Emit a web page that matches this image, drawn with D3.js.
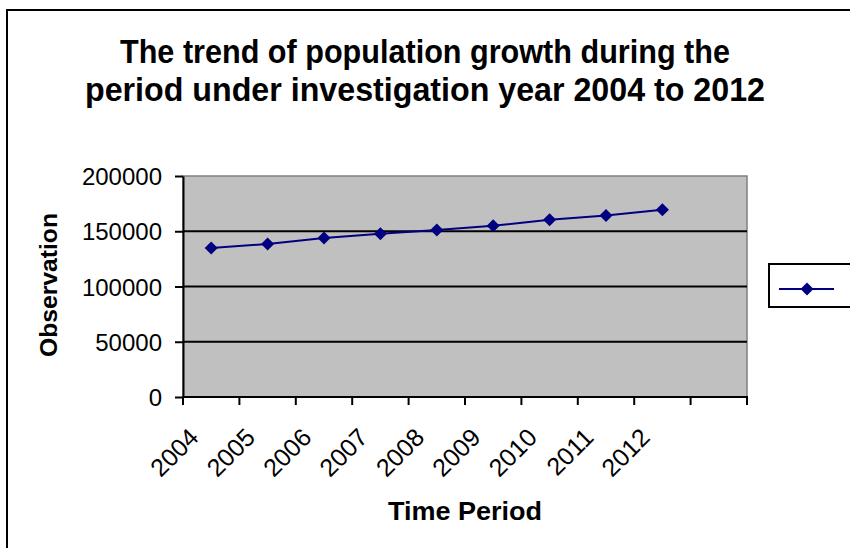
<!DOCTYPE html>
<html>
<head>
<meta charset="utf-8">
<script src="https://cdn.jsdelivr.net/npm/d3@7"></script>
<style>
  html, body { margin: 0; padding: 0; background: #fff; }
  svg { display: block; }
  text { font-family: "Liberation Sans", Arial, sans-serif; fill: #000; }
</style>
</head>
<body>
<svg id="chart" width="850" height="548"></svg>
<script>
// ---- data ----
const years = ['2004', '2005', '2006', '2007', '2008', '2009', '2010', '2011', '2012'];
const population = [134900, 138500, 143900, 147800, 151100, 155000, 160400, 164300, 169400];
const yTicks = [0, 50000, 100000, 150000, 200000];
const slots = [...years, ' ']; // trailing empty category slot on the axis
const titleLines = ['The trend of population growth during the', 'period under investigation year 2004 to 2012'];
const xTitle = 'Time Period';
const yTitle = 'Observation';

// ---- layout ----
const svg = d3.select('#chart');
const plot = { left: 183, right: 747, top: 176, bottom: 397 };

const x = d3.scaleBand().domain(slots).range([plot.left, plot.right]).padding(0);
const y = d3.scaleLinear().domain([0, 200000]).range([plot.bottom, plot.top]);

// outer chart border
svg.append('rect')
  .attr('x', 7).attr('y', 10)
  .attr('width', 900).attr('height', 600)
  .attr('fill', '#fff').attr('stroke', '#000').attr('stroke-width', 2);

// title
svg.append('g').selectAll('text').data(titleLines).join('text')
  .attr('x', 425)
  .attr('y', (d, i) => 63 + i * 38)
  .attr('text-anchor', 'middle')
  .attr('font-size', 34)
  .attr('font-weight', 'bold')
  .attr('textLength', (d, i) => i === 0 ? 610 : 680)
  .attr('lengthAdjust', 'spacingAndGlyphs')
  .text(d => d);

// plot background
svg.append('rect')
  .attr('x', plot.left).attr('y', plot.top)
  .attr('width', plot.right - plot.left).attr('height', plot.bottom - plot.top)
  .attr('fill', '#C0C0C0')
  .attr('stroke', '#808080').attr('stroke-width', 1.5);

// gridlines
svg.append('g').selectAll('line')
  .data(yTicks.filter(t => t > 0 && t < 200000)).join('line')
  .attr('x1', plot.left).attr('x2', plot.right)
  .attr('y1', d => y(d)).attr('y2', d => y(d))
  .attr('stroke', '#000').attr('stroke-width', 2);

// y axis
const yAxis = svg.append('g')
  .attr('transform', `translate(${plot.left},0)`)
  .call(d3.axisLeft(y).tickValues(yTicks).tickSize(8).tickSizeOuter(0).tickPadding(13).tickFormat(d3.format('d')));
yAxis.select('.domain').attr('stroke', '#000').attr('stroke-width', 2);
yAxis.selectAll('.tick line').attr('stroke', '#000').attr('stroke-width', 2);
yAxis.selectAll('.tick text')
  .attr('font-size', 24)
  .attr('font-family', '"Liberation Sans", Arial, sans-serif')
  .attr('fill', '#000')
  .attr('dy', '0.36em');

// x axis line
svg.append('line')
  .attr('x1', plot.left - 1).attr('x2', plot.right + 1)
  .attr('y1', plot.bottom).attr('y2', plot.bottom)
  .attr('stroke', '#000').attr('stroke-width', 2);

// x ticks at band boundaries
const edges = slots.map(d => x(d)).concat([x(slots[slots.length - 1]) + x.bandwidth()]);
svg.append('g').selectAll('line').data(edges).join('line')
  .attr('x1', d => d).attr('x2', d => d)
  .attr('y1', plot.bottom).attr('y2', plot.bottom + 8)
  .attr('stroke', '#000').attr('stroke-width', 2);

// x tick labels, rotated
svg.append('g').selectAll('text').data(years).join('text')
  .attr('transform', d => `translate(${x(d) + x.bandwidth() / 2 - 11},${plot.bottom + 42}) rotate(-45)`)
  .attr('text-anchor', 'end')
  .attr('font-size', 25)
  .text(d => d);

// line series
const pts = years.map((d, i) => ({ year: d, value: population[i] }));
const lineGen = d3.line().x(d => x(d.year) + x.bandwidth() / 2).y(d => y(d.value));
svg.append('path')
  .datum(pts)
  .attr('d', lineGen)
  .attr('fill', 'none')
  .attr('stroke', '#000080')
  .attr('stroke-width', 2);

const diamond = d3.symbol().type(d3.symbolSquare).size(85);
svg.append('g').selectAll('path').data(pts).join('path')
  .attr('d', diamond)
  .attr('transform', d => `translate(${x(d.year) + x.bandwidth() / 2},${y(d.value)}) rotate(45)`)
  .attr('fill', '#000080');

// axis titles
svg.append('text')
  .attr('x', 465).attr('y', 520)
  .attr('text-anchor', 'middle')
  .attr('font-size', 25)
  .attr('font-weight', 'bold')
  .attr('textLength', 154)
  .attr('lengthAdjust', 'spacingAndGlyphs')
  .text(xTitle);

svg.append('text')
  .attr('transform', `translate(57,285) rotate(-90)`)
  .attr('text-anchor', 'middle')
  .attr('font-size', 24)
  .attr('font-weight', 'bold')
  .attr('textLength', 144)
  .attr('lengthAdjust', 'spacingAndGlyphs')
  .text(yTitle);

// legend
const lg = svg.append('g');
lg.append('rect')
  .attr('x', 769).attr('y', 264).attr('width', 120).attr('height', 43)
  .attr('fill', '#fff').attr('stroke', '#000').attr('stroke-width', 2);
lg.append('line')
  .attr('x1', 779).attr('x2', 834).attr('y1', 289).attr('y2', 289)
  .attr('stroke', '#000080').attr('stroke-width', 2);
lg.append('path')
  .attr('d', diamond)
  .attr('transform', 'translate(807,289) rotate(45)')
  .attr('fill', '#000080');
</script>
</body>
</html>
